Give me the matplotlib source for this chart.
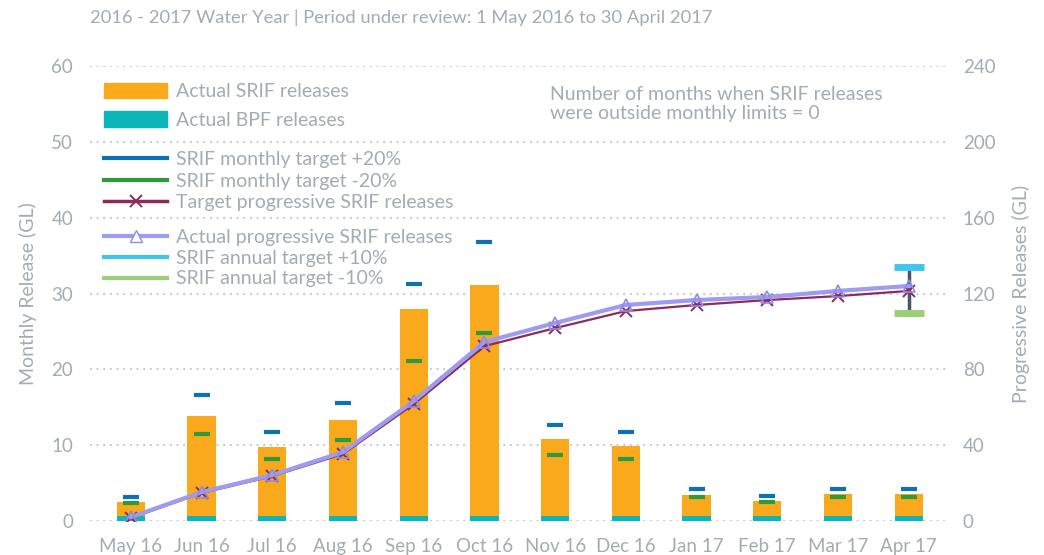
import numpy as np
import matplotlib
matplotlib.use("Agg")
import matplotlib.pyplot as plt
from matplotlib.patches import Patch
from matplotlib.lines import Line2D

# Data
months = ["May 16", "Jun 16", "Jul 16", "Aug 16", "Sep 16", "Oct 16",
          "Nov 16", "Dec 16", "Jan 17", "Feb 17", "Mar 17", "Apr 17"]
srif_total = [2.5, 13.85, 9.8, 13.3, 28.0, 31.1, 10.8, 9.9, 3.4, 2.6, 3.6, 3.6]
bpf = [0.7, 0.7, 0.7, 0.7, 0.7, 0.7, 0.7, 0.7, 0.7, 0.7, 0.7, 0.7]
target_plus20 = [3.2, 16.6, 11.7, 15.6, 31.3, 36.8, 12.7, 11.7, 4.2, 3.3, 4.2, 4.2]
target_minus20 = [2.4, 11.5, 8.2, 10.7, 21.1, 24.8, 8.7, 8.2, 3.2, 2.5, 3.2, 3.2]
target_prog = [1.6, 14.8, 23.7, 35.4, 61.7, 92.3, 101.8, 110.8, 114.0, 116.6, 118.7, 121.4]
actual_prog = [2.1, 15.3, 24.3, 36.4, 63.3, 94.5, 104.5, 114.0, 116.6, 118.2, 121.4, 124.0]
annual_plus10 = 134.0
annual_minus10 = 109.8

grey = "#a3abb3"
plt.rcParams['font.family'] = ['Lato', 'DejaVu Sans']

fig = plt.figure(figsize=(10.44, 5.55), dpi=100)
ax = fig.add_axes([0.086, 0.061, 0.819, 0.82])
ax2 = ax.twinx()

x = np.arange(len(months))

# bars: SRIF total with BPF at the base
ax.bar(x, srif_total, width=0.4, color="#f9a91b", zorder=2)
ax.bar(x, bpf, width=0.4, color="#0bb5b8", zorder=3)

# monthly target limits
ax.plot(x, target_plus20, ls="none", marker="_", ms=11, mew=3, color="#0a72b5", zorder=4)
ax.plot(x, target_minus20, ls="none", marker="_", ms=11, mew=3, color="#2f9a3c", zorder=4)

ax.set_ylim(0, 60)
ax.set_xlim(-0.58, 11.51)
ax.set_yticks(range(0, 61, 10))
ax.set_xticks(x)
ax.set_xticklabels(months)
ax.yaxis.grid(True, linestyle=(0, (1, 3)), color="#b5b9bd", linewidth=1.2, zorder=0)
ax.set_axisbelow(True)

# progressive releases on the right axis
ax2.set_ylim(0, 240)
ax2.set_yticks(range(0, 241, 40))
ax2.plot(x, target_prog, color="#8e2a5c", lw=1.6, marker="x", ms=8, mew=1.4, zorder=5)
ax2.plot(x, actual_prog, color="#9d9cf0", lw=3, marker="^", ms=8, mfc="none",
         mec="#8c8be8", mew=1.2, zorder=6)

# annual target range on last month
ax2.plot([x[-1], x[-1]], [annual_minus10, annual_plus10], color="#4b5660", lw=2.5, zorder=4)
ax2.plot([x[-1]], [annual_plus10], marker="_", ms=22, mew=5, color="#3ec6ee", zorder=7)
ax2.plot([x[-1]], [annual_minus10], marker="_", ms=22, mew=5, color="#9bcf78", zorder=7)

for a in (ax, ax2):
    for s in a.spines.values():
        s.set_visible(False)
    a.tick_params(length=0, colors=grey, labelsize=13.5)
ax.tick_params(axis="y", pad=12)
ax2.tick_params(axis="y", pad=13)
ax.tick_params(axis="x", pad=12)

ax.set_ylabel("Monthly Release (GL)", color=grey, fontsize=14, labelpad=10)
ax2.set_ylabel("Progressive Releases (GL)", color=grey, fontsize=14, labelpad=12)

fig.text(0.086, 0.968, "2016 - 2017 Water Year | Period under review: 1 May 2016 to 30 April 2017",
         color=grey, fontsize=13.2, va="center")
fig.text(0.527, 0.812, "Number of months when SRIF releases\nwere outside monthly limits = 0",
         color=grey, fontsize=14, va="center", linespacing=1.15)

# legends in three groups
h1 = [Patch(color="#f9a91b"), Patch(color="#0bb5b8")]
l1 = ["Actual SRIF releases", "Actual BPF releases"]
h2 = [Line2D([], [], color="#0a72b5", lw=3),
      Line2D([], [], color="#2f9a3c", lw=3),
      Line2D([], [], color="#8e2a5c", lw=2.5, marker="x", ms=8, mew=1.4)]
l2 = ["SRIF monthly target +20%", "SRIF monthly target -20%", "Target progressive SRIF releases"]
h3 = [Line2D([], [], color="#9d9cf0", lw=3, marker="^", ms=8, mfc="white", mec="#8c8be8"),
      Line2D([], [], color="#3ec6ee", lw=3),
      Line2D([], [], color="#9bcf78", lw=3)]
l3 = ["Actual progressive SRIF releases", "SRIF annual target +10%", "SRIF annual target -10%"]

common = dict(loc="upper left", frameon=False, fontsize=14, labelcolor=grey,
              handlelength=3.2, handletextpad=0.5, borderaxespad=0, borderpad=0)
leg1 = fig.legend(h1, l1, bbox_to_anchor=(0.1, 0.851), labelspacing=0.56,
                  handleheight=0.85, **common)
leg2 = fig.legend(h2, l2, bbox_to_anchor=(0.1, 0.728), labelspacing=0.24, **common)
leg3 = fig.legend(h3, l3, bbox_to_anchor=(0.1, 0.588), labelspacing=0.2, **common)

fig.savefig("out.png", dpi=100)
